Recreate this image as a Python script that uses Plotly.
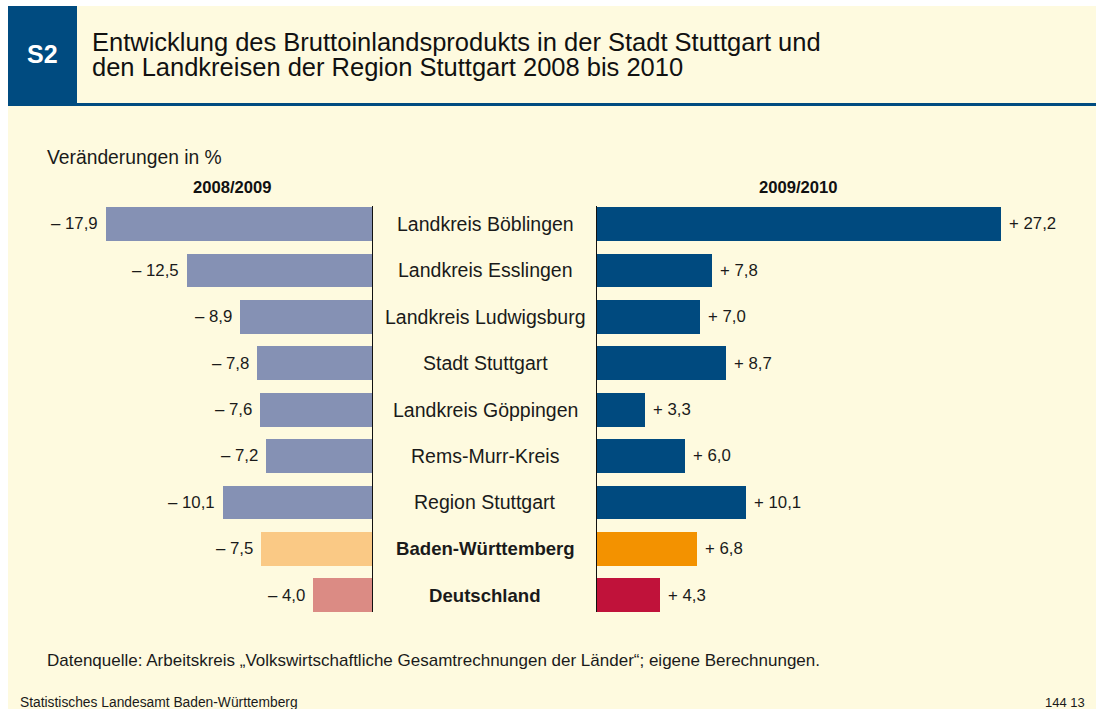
import plotly.graph_objects as go

categories = ["Landkreis Böblingen", "Landkreis Esslingen", "Landkreis Ludwigsburg",
              "Stadt Stuttgart", "Landkreis Göppingen", "Rems-Murr-Kreis",
              "Region Stuttgart", "Baden-Württemberg", "Deutschland"]
change_2008_2009 = [-17.9, -12.5, -8.9, -7.8, -7.6, -7.2, -10.1, -7.5, -4.0]
change_2009_2010 = [27.2, 7.8, 7.0, 8.7, 3.3, 6.0, 10.1, 6.8, 4.3]
bold_rows = ["Baden-Württemberg", "Deutschland"]

colors_left = ["#8591B4"] * 7 + ["#FAC985", "#DB8B84"]
colors_right = ["#004A7F"] * 7 + ["#F39200", "#C0123A"]

W, H = 1096, 709
FONT = "Liberation Sans, Arial, sans-serif"
CREAM = "#FEFADF"
BLUE = "#004B80"
TXT = "#1a1a1a"

def xp(px):
    return px / W

def yp(py):
    return 1 - py / H

scale = 14.9  # px per unit
left_zero, right_zero = 373, 596
left_min_px, right_max_px = 30, 1075
left_range = [-(left_zero - left_min_px) / scale, 0]
right_range = [0, (right_max_px - right_zero) / scale]

fig = go.Figure()
fig.add_trace(go.Bar(
    y=categories, x=change_2008_2009, orientation="h",
    marker=dict(color=colors_left, line=dict(width=0)),
    width=0.73, xaxis="x", yaxis="y", hoverinfo="skip", showlegend=False))
fig.add_trace(go.Bar(
    y=categories, x=change_2009_2010, orientation="h",
    marker=dict(color=colors_right, line=dict(width=0)),
    width=0.73, xaxis="x2", yaxis="y", hoverinfo="skip", showlegend=False))

annotations = []
def fmt(v):
    s = f"{abs(v):.1f}".replace(".", ",")
    return ("– " if v < 0 else "+ ") + s

for c, v in zip(categories, change_2008_2009):
    annotations.append(dict(x=v, y=c, xref="x", yref="y", text=fmt(v), showarrow=False,
                            xanchor="right", xshift=-6, font=dict(size=16.8, color=TXT, family=FONT)))
for c, v in zip(categories, change_2009_2010):
    annotations.append(dict(x=v, y=c, xref="x2", yref="y", text=fmt(v), showarrow=False,
                            xanchor="left", xshift=6, font=dict(size=16.8, color=TXT, family=FONT)))
for c in categories:
    bold = c in bold_rows
    txt = f"<b>{c}</b>" if bold else c
    annotations.append(dict(x=xp(485), y=c, xref="paper", yref="y", text=txt, showarrow=False,
                            xanchor="center", font=dict(size=18.6 if bold else 19.5, color=TXT, family=FONT)))

# header and static texts
annotations += [
    dict(x=xp(42.5), y=yp(54), xref="paper", yref="paper", text="<b>S2</b>", showarrow=False,
         xanchor="center", yanchor="middle", font=dict(size=25, color="white", family=FONT)),
    dict(x=xp(90), y=yp(41.5), xref="paper", yref="paper",
         text="Entwicklung des Bruttoinlandsprodukts in der Stadt Stuttgart und",
         showarrow=False, xanchor="left", yanchor="middle",
         font=dict(size=25.5, color="#111111", family=FONT)),
    dict(x=xp(90), y=yp(67.5), xref="paper", yref="paper",
         text="den Landkreisen der Region Stuttgart 2008 bis 2010",
         showarrow=False, xanchor="left", yanchor="middle",
         font=dict(size=25.5, color="#111111", family=FONT)),
    dict(x=xp(45), y=yp(157), xref="paper", yref="paper", text="Veränderungen in %", showarrow=False,
         xanchor="left", yanchor="middle", font=dict(size=19.3, color=TXT, family=FONT)),
    dict(x=xp(232), y=yp(187), xref="paper", yref="paper", text="<b>2008/2009</b>", showarrow=False,
         xanchor="center", yanchor="middle", font=dict(size=16.6, color="#111111", family=FONT)),
    dict(x=xp(798), y=yp(187), xref="paper", yref="paper", text="<b>2009/2010</b>", showarrow=False,
         xanchor="center", yanchor="middle", font=dict(size=16.6, color="#111111", family=FONT)),
    dict(x=xp(45), y=yp(660), xref="paper", yref="paper",
         text="Datenquelle: Arbeitskreis „Volkswirtschaftliche Gesamtrechnungen der Länder“; eigene Berechnungen.",
         showarrow=False, xanchor="left", yanchor="middle", font=dict(size=17, color=TXT, family=FONT)),
    dict(x=xp(18), y=yp(702), xref="paper", yref="paper", text="Statistisches Landesamt Baden-Württemberg",
         showarrow=False, xanchor="left", yanchor="middle", font=dict(size=13.8, color=TXT, family=FONT)),
    dict(x=xp(1087), y=yp(702), xref="paper", yref="paper", text="144 13",
         showarrow=False, xanchor="right", yanchor="middle", font=dict(size=13, color=TXT, family=FONT)),
]

shapes = [
    dict(type="rect", xref="paper", yref="paper", x0=xp(8), x1=1, y0=0, y1=yp(6),
         fillcolor=CREAM, line=dict(width=0), layer="below"),
    dict(type="rect", xref="paper", yref="paper", x0=xp(8), x1=xp(77), y0=yp(103), y1=yp(6),
         fillcolor=BLUE, line=dict(width=0), layer="below"),
    dict(type="rect", xref="paper", yref="paper", x0=xp(8), x1=1, y0=yp(106), y1=yp(103),
         fillcolor=BLUE, line=dict(width=0), layer="below"),
    dict(type="line", xref="x", yref="paper", x0=0, x1=0, y0=yp(612), y1=yp(206),
         line=dict(color="#111111", width=2)),
    dict(type="line", xref="x2", yref="paper", x0=0, x1=0, y0=yp(612), y1=yp(206),
         line=dict(color="#111111", width=2)),
]

fig.update_layout(
    width=W, height=H, margin=dict(l=0, r=0, t=0, b=0),
    paper_bgcolor="white", plot_bgcolor="rgba(0,0,0,0)",
    barmode="overlay", bargap=0,
    xaxis=dict(domain=[xp(left_min_px), xp(left_zero)], range=left_range, visible=False, fixedrange=True),
    xaxis2=dict(domain=[xp(right_zero), xp(right_max_px)], range=right_range, visible=False, fixedrange=True,
                anchor="y"),
    yaxis=dict(domain=[yp(618.2), yp(200.8)], range=[8.5, -0.5], visible=False, fixedrange=True,
               categoryorder="array", categoryarray=categories),
    annotations=annotations, shapes=shapes,
)

post = ("document.documentElement.style.margin='0';document.documentElement.style.overflow='hidden';"
        "document.body.style.margin='0';document.body.style.padding='0';document.body.style.overflow='hidden';")
fig.write_html("out.html", config={"displayModeBar": False}, post_script=post)
